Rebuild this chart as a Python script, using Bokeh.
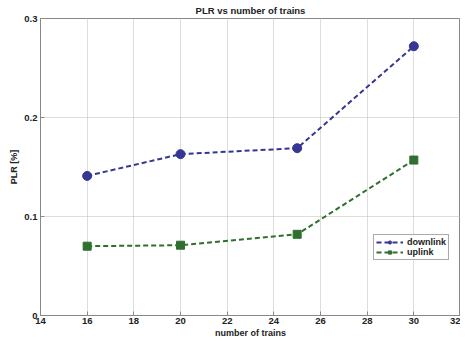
from bokeh.plotting import figure
from bokeh.models import Range1d, FixedTicker, Legend, LegendItem
from bokeh.embed import file_html
from bokeh.resources import INLINE

trains = [16, 20, 25, 30]
downlink = [0.141, 0.163, 0.169, 0.272]
uplink = [0.070, 0.071, 0.082, 0.157]
x_ticks = [14, 16, 18, 20, 22, 24, 26, 28, 30, 32]
y_ticks = [0, 0.1, 0.2, 0.3]

FONT = "Liberation Sans"
BLUE = "#363694"
GREEN = "#2f6f2f"

p = figure(width=460, height=340, output_backend="svg", toolbar_location=None,
           x_range=Range1d(14, 32), y_range=Range1d(0, 0.3),
           min_border_left=40, min_border_right=0, min_border_top=0, min_border_bottom=0,
           title="PLR vs number of trains")
p.title.align = "center"
p.title.text_font = FONT
p.title.text_font_size = "9.5px"
p.title.text_font_style = "bold"
p.title.text_color = "#222222"
p.title.standoff = 5
p.title.offset = 0

p.outline_line_color = "#888888"
p.outline_line_width = 1
p.background_fill_color = "white"
p.border_fill_color = "white"

for ax in (p.xaxis[0], p.yaxis[0]):
    ax.axis_line_color = "#888888"
    ax.major_tick_in = 4
    ax.major_tick_out = 0
    ax.minor_tick_line_color = None
    ax.major_tick_line_color = "#888888"
    ax.major_label_text_font = FONT
    ax.major_label_text_font_size = "9.5px"
    ax.major_label_text_font_style = "bold"
    ax.major_label_text_color = "#222222"
    ax.axis_label_text_font = FONT
    ax.axis_label_text_font_size = "9px"
    ax.axis_label_text_font_style = "bold"
    ax.axis_label_text_color = "#222222"

p.xaxis.ticker = FixedTicker(ticks=x_ticks)
p.yaxis.ticker = FixedTicker(ticks=y_ticks)
p.xaxis.major_label_overrides = {14: "14", 16: "16", 18: "18", 20: "20", 22: "22",
                                 24: "24", 26: "26", 28: "28", 30: "30", 32: "32"}
p.yaxis.major_label_overrides = {0: "0", 0.1: "0.1", 0.2: "0.2", 0.3: "0.3"}
p.xaxis.axis_label = "number of trains"
p.yaxis.axis_label = "PLR [%]"
p.xaxis.major_label_standoff = 2
p.xaxis.axis_label_standoff = 1
p.yaxis.major_label_standoff = 3
p.yaxis.axis_label_standoff = 2

p.xgrid.grid_line_color = "#bbbbbb"
p.ygrid.grid_line_color = "#bbbbbb"
p.xgrid.grid_line_dash = "1 1"
p.ygrid.grid_line_dash = "1 1"
p.xgrid.ticker = FixedTicker(ticks=x_ticks)
p.ygrid.ticker = FixedTicker(ticks=y_ticks)

l1 = p.line(trains, downlink, line_color=BLUE, line_width=2, line_dash="5 3")
s1 = p.scatter(trains, downlink, marker="circle", size=9, fill_color=BLUE, line_color=BLUE)
l2 = p.line(trains, uplink, line_color=GREEN, line_width=2, line_dash="5 3")
s2 = p.scatter(trains, uplink, marker="square", size=8, fill_color=GREEN, line_color=GREEN)

legend = Legend(items=[LegendItem(label="downlink", renderers=[l1, s1]),
                       LegendItem(label="uplink", renderers=[l2, s2])],
                location=(333, 55))
legend.label_text_font = FONT
legend.label_text_font_size = "9px"
legend.label_text_font_style = "bold"
legend.label_text_color = "#222222"
legend.glyph_height = 8
legend.glyph_width = 27
legend.label_height = 8
legend.label_standoff = 4
legend.spacing = 0
legend.padding = 2
legend.margin = 0
legend.border_line_color = "#555555"
legend.border_line_width = 1
legend.background_fill_alpha = 1
p.add_layout(legend, "center")

open("out.html", "w").write(file_html(p, INLINE))
